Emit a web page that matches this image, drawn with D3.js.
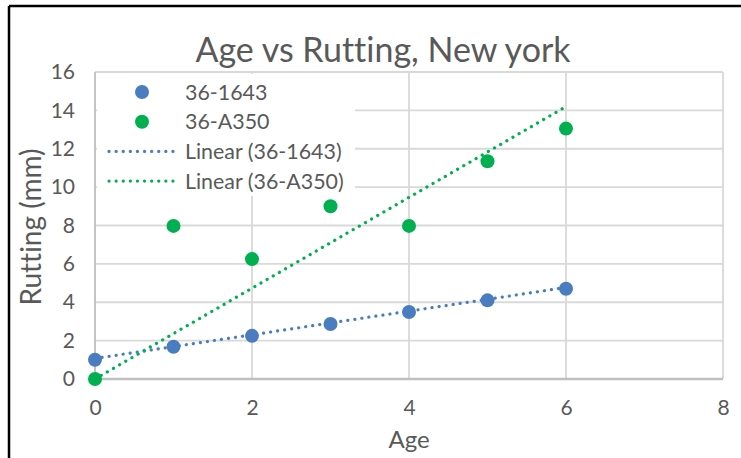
<!DOCTYPE html>
<html>
<head>
<meta charset="utf-8">
<script src="https://cdn.jsdelivr.net/npm/d3@7"></script>
<style>
  body { margin: 0; background: #fff; }
  svg { display: block; font-family: Lato, "Open Sans", sans-serif; font-variant-ligatures: none; }
</style>
</head>
<body>
<div id="chart"></div>
<script>
// values
let ages = [0, 1, 2, 3, 4, 5, 6]
let rut1643 = [1.0, 1.68, 2.25, 2.87, 3.49, 4.1, 4.7]
let rutA350 = [0, 7.98, 6.25, 9.0, 7.98, 11.35, 13.05]
// trendline end points (Excel linear fits)
let trend1643 = [[0, 1.07], [6, 4.77]]
let trendA350 = [[0, 0], [6, 14.2]]
let xTicks = [0, 2, 4, 6, 8]
let yTicks = [0, 2, 4, 6, 8, 10, 12, 14, 16]
let seriesNames = ["36-1643", "36-A350", "Linear (36-1643)", "Linear (36-A350)"]

let width = 741
let height = 458
let margins = {top: 72, right: 18, bottom: 79, left: 95}

let blue = "#4a7dbf"
let green = "#00b050"
let textColor = "#595959"

let svg = d3.select("#chart").append("svg")
    .attr("width", width)
    .attr("height", height)

// frame (only top and left edges show in the picture)
svg.append("line").attr("x1", 9).attr("x2", width).attr("y1", 6).attr("y2", 6)
    .attr("stroke", "#000").attr("stroke-width", 2.5)
svg.append("line").attr("x1", 9).attr("x2", 9).attr("y1", 6).attr("y2", height)
    .attr("stroke", "#000").attr("stroke-width", 2.5)

let xScale = d3.scaleLinear().domain([0, 8]).range([margins.left, width - margins.right])
let yScale = d3.scaleLinear().domain([0, 16]).range([height - margins.bottom, margins.top])

// gridlines
svg.append("g").selectAll("line").data(yTicks.slice(1)).join("line")
    .attr("x1", xScale(0)).attr("x2", xScale(8))
    .attr("y1", d => yScale(d)).attr("y2", d => yScale(d))
    .attr("stroke", "#d9d9d9").attr("stroke-width", 1.8)
svg.append("g").selectAll("line").data(xTicks).join("line")
    .attr("x1", d => xScale(d)).attr("x2", d => xScale(d))
    .attr("y1", yScale(0)).attr("y2", yScale(16))
    .attr("stroke", d => d === 0 ? "#bfbfbf" : "#d9d9d9").attr("stroke-width", 1.8)

// axes with no domain line, only labels
let xAxis = svg.append("g")
    .attr("transform", `translate(0, ${yScale(0)})`)
    .call(d3.axisBottom(xScale).tickValues(xTicks).tickSize(0).tickPadding(21))
let yAxis = svg.append("g")
    .attr("transform", `translate(${margins.left}, 0)`)
    .call(d3.axisLeft(yScale).tickValues(yTicks).tickSize(0).tickPadding(20))
for (let ax of [xAxis, yAxis]) {
    ax.select(".domain").remove()
    ax.selectAll("text").attr("fill", textColor).style("font-size", "21px")
        .style("font-family", "Lato, 'Open Sans', sans-serif")
}

// bottom axis line
svg.append("line")
    .attr("x1", xScale(0)).attr("x2", xScale(8))
    .attr("y1", yScale(0)).attr("y2", yScale(0))
    .attr("stroke", "#bfbfbf").attr("stroke-width", 2.5)

// trendlines
let line = d3.line().x(d => xScale(d[0])).y(d => yScale(d[1]))
let trends = [[trend1643, blue], [trendA350, green]]
for (let [pts, color] of trends) {
    svg.append("path").attr("d", line(pts))
        .attr("fill", "none").attr("stroke", color)
        .attr("stroke-width", 3.2).attr("stroke-linecap", "round")
        .attr("stroke-dasharray", "0.1,7")
}

// markers
let series = [[rut1643, blue], [rutA350, green]]
for (let [vals, color] of series) {
    svg.append("g").selectAll("circle").data(vals).join("circle")
        .attr("cx", (d, i) => xScale(ages[i]))
        .attr("cy", d => yScale(d))
        .attr("r", 7)
        .attr("fill", color)
}

// legend
let legend = svg.append("g")
legend.append("rect")
    .attr("x", 97).attr("y", 74).attr("width", 258).attr("height", 122)
    .attr("fill", "#fff")
let legendColors = [blue, green, blue, green]
seriesNames.forEach((name, i) => {
    let cy = 92 + i * 29.7
    if (i < 2) {
        legend.append("circle").attr("cx", 142).attr("cy", cy).attr("r", 7)
            .attr("fill", legendColors[i])
    } else {
        legend.append("line").attr("x1", 109).attr("x2", 175)
            .attr("y1", cy).attr("y2", cy)
            .attr("stroke", legendColors[i]).attr("stroke-width", 3.2)
            .attr("stroke-linecap", "round").attr("stroke-dasharray", "0.1,7")
    }
    legend.append("text").attr("x", 185).attr("y", cy + 7.5)
        .attr("fill", textColor).style("font-size", "21.4px")
        .text(name)
})

// title and axis titles
svg.append("text")
    .attr("x", 383).attr("y", 62)
    .attr("text-anchor", "middle")
    .attr("fill", textColor).style("font-size", "34px")
    .text("Age vs Rutting, New york")

svg.append("text")
    .attr("x", 409).attr("y", 448)
    .attr("text-anchor", "middle")
    .attr("fill", textColor).style("font-size", "24px")
    .text("Age")

svg.append("text")
    .attr("transform", `translate(41, 227) rotate(-90)`)
    .attr("text-anchor", "middle")
    .attr("fill", textColor).style("font-size", "28px")
    .text("Rutting (mm)")
</script>
</body>
</html>
